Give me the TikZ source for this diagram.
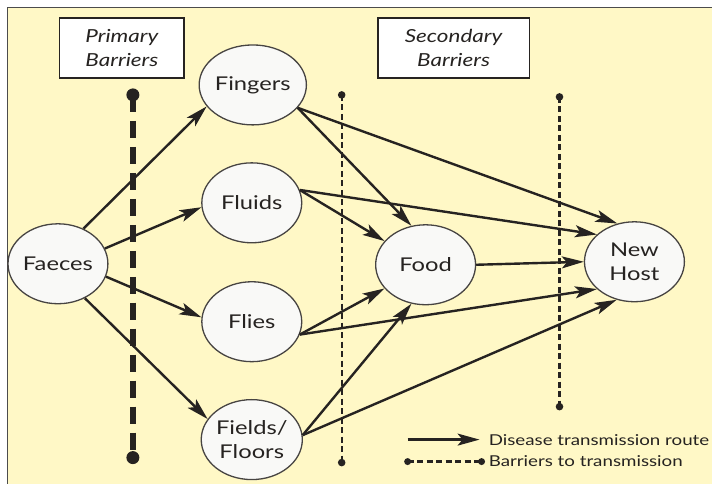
\documentclass[tikz,border=0pt]{standalone}
\usepackage{fontspec}
\setmainfont{Lato}[FakeStretch=1.25]
\usetikzlibrary{arrows.meta,shapes.geometric}

\definecolor{paper}{RGB}{255,248,198}
\definecolor{ink}{RGB}{38,35,33}
\definecolor{bubble}{RGB}{249,249,247}

\tikzset{
	place/.style={ellipse, draw=ink!85, line width=1.3pt, fill=bubble,
		minimum width=100pt, minimum height=80pt, inner sep=0pt,
		align=center, text=ink, font=\fontsize{19}{24}\selectfont},
	tag/.style={draw=ink, line width=1.8pt, fill=white,
		minimum height=60pt, inner sep=0pt, align=center, text=ink,
		font=\itshape\fontsize{18}{24}\selectfont},
	route/.style={draw=ink, line width=2.4pt,
		-{Stealth[length=22pt, width=12pt, inset=5pt]}},
	wall/.style={draw=ink, line width=5.5pt, dash pattern=on 17pt off 9pt},
	fence/.style={draw=ink, line width=2.2pt, dash pattern=on 6pt off 3.5pt},
	legend/.style={anchor=west, inner sep=0pt, text=ink,
		font=\fontsize{15}{18}\selectfont}
}

\begin{document}
\begin{tikzpicture}[x=1pt, y=-1pt]
	\fill[white] (0,0) rectangle (713,484);
	\fill[paper] (8,8) rectangle (713,484);
	\draw[gray!60!black, line width=1.3pt] (7.5,484) -- (7.5,7.5) -- (713,7.5);
	\useasboundingbox (0,0) rectangle (713,484);

	% barriers
	\coordinate (b1t) at (133,95);
	\coordinate (b1b) at (133,458);
	\coordinate (b2t) at (342,95);
	\coordinate (b2b) at (342,463);
	\coordinate (b3t) at (560,97);
	\coordinate (b3b) at (560,407);

	\draw[wall] (b1t) -- (b1b);
	\fill[ink] (b1t) circle (6.5) (b1b) circle (6.5);

	\foreach \t/\b in {b2t/b2b, b3t/b3b}
	{
		\draw[fence] (\t) -- (\b);
		\fill[ink] (\t) circle (3.8) (\b) circle (3.8);
	}

	\node[tag, minimum width=125pt] (PB) at (122,48) {Primary\\Barriers};
	\node[tag, minimum width=152pt] (SB) at (454,48) {Secondary\\Barriers};

	\node[place] (fae) at (58,264) {Faeces};
	\node[place] (fin) at (253,85) {Fingers};
	\node[place] (flu) at (252,203) {Fluids};
	\node[place] (fli) at (252,322) {Flies};
	\node[place] (fie) at (252,440) {Fields/\\Floors};
	\node[place] (food) at (426,265) {Food};
	\node[place] (host) at (635,262) {New\\Host};

	\foreach \a/\b in {fae.54/fin.205, fae.18/flu.185, fae.-15/fli.175, fae.-52/fie.155}
	\draw[route] (\a) -- (\b);

	\foreach \a/\b in {fin.-27/food.110, flu.15/food.150, fli.-15/food.210, fie.5/food.250}
	\draw[route] (\a) -- (\b);

	\foreach \a/\b in {fin.-27/host.114, flu.15/host.144, food.0/host.180, fli.-15/host.216, fie.5/host.245}
	\draw[route] (\a) -- (\b);

	% key
	\coordinate (k1) at (408,440);
	\coordinate (k2) at (480,440);
	\coordinate (k3) at (408,462);
	\coordinate (k4) at (482,462);

	\draw[route] (k1) -- (k2);
	\node[legend] (kr) at (489,440) {Disease transmission route};

	\draw[fence] (k3) -- (k4);
	\fill[ink] (k3) circle (3.5) (k4) circle (3.5);
	\node[legend] (kb) at (489,462) {Barriers to transmission};
\end{tikzpicture}
\end{document}
